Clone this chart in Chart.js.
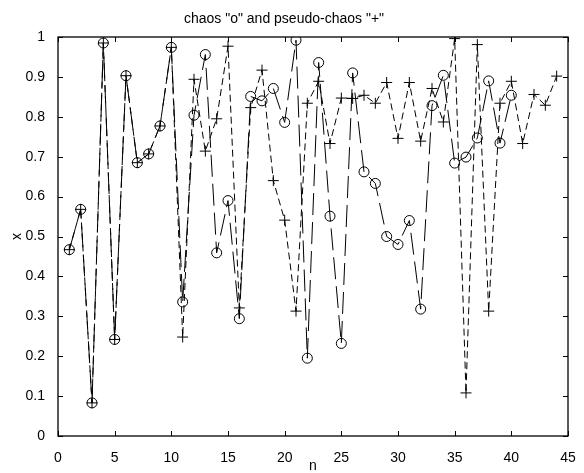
<!DOCTYPE html>
<html>
<head>
<meta charset="utf-8">
<script src="https://cdn.jsdelivr.net/npm/chart.js@4.4.1/dist/chart.umd.min.js"></script>
<style>
  html, body { margin: 0; padding: 0; background: #fff; }
  canvas { display: block; }
</style>
</head>
<body>
<canvas id="chart" width="584" height="473"></canvas>
<script>
// chaos "o" (n = 1..40)
const chaosX = [0.467, 0.568, 0.083, 0.985, 0.242, 0.903, 0.685, 0.707, 0.777, 0.974,
                0.336, 0.804, 0.956, 0.459, 0.590, 0.294, 0.851, 0.840, 0.871, 0.786,
                0.992, 0.195, 0.936, 0.551, 0.232, 0.910, 0.662, 0.633, 0.500, 0.480,
                0.540, 0.318, 0.828, 0.904, 0.684, 0.699, 0.747, 0.890, 0.734, 0.854];
// pseudo-chaos "+" (n = 1..44)
const pseudoX = [0.467, 0.568, 0.083, 0.985, 0.242, 0.903, 0.685, 0.707, 0.777, 0.974,
                 0.248, 0.894, 0.714, 0.795, 0.977, 0.321, 0.823, 0.917, 0.640, 0.541,
                 0.313, 0.834, 0.889, 0.733, 0.847, 0.846, 0.854, 0.834, 0.886, 0.746,
                 0.886, 0.739, 0.871, 0.787, 0.996, 0.108, 0.981, 0.313, 0.834, 0.889,
                 0.733, 0.856, 0.829, 0.902];
const nTicks = [0, 5, 10, 15, 20, 25, 30, 35, 40, 45];
const xTicks = [0, 0.1, 0.2, 0.3, 0.4, 0.5, 0.6, 0.7, 0.8, 0.9, 1];

const toPoints = arr => arr.map((v, i) => ({ x: i + 1, y: v }));

// matlab-style box with inward ticks on all four sides
const boxPlugin = {
  id: 'box',
  afterDatasetsDraw(chart) {
    const { ctx, chartArea: a, scales: { x, y } } = chart;
    const len = 5;
    ctx.save();
    ctx.strokeStyle = '#000';
    ctx.lineWidth = 1;
    ctx.beginPath();
    nTicks.forEach(v => {
      const px = Math.round(x.getPixelForValue(v)) + 0.5;
      ctx.moveTo(px, a.bottom); ctx.lineTo(px, a.bottom - len);
      ctx.moveTo(px, a.top); ctx.lineTo(px, a.top + len);
    });
    xTicks.forEach(v => {
      const py = Math.round(y.getPixelForValue(v)) + 0.5;
      ctx.moveTo(a.left, py); ctx.lineTo(a.left + len, py);
      ctx.moveTo(a.right, py); ctx.lineTo(a.right - len, py);
    });
    ctx.stroke();
    ctx.lineWidth = 1.3;
    ctx.strokeRect(a.left, a.top, a.right - a.left, a.bottom - a.top);
    ctx.restore();
  }
};

const font = { family: '"Liberation Sans", Arial, sans-serif', size: 14 };

new Chart(document.getElementById('chart'), {
  type: 'line',
  data: {
    datasets: [
      {
        label: 'chaos',
        data: toPoints(chaosX),
        borderColor: '#000',
        borderWidth: 1,
        borderDash: [22, 7],
        pointStyle: 'circle',
        pointRadius: 5,
        pointBorderWidth: 1,
        pointBorderColor: '#000',
        pointBackgroundColor: 'rgba(0,0,0,0)',
        fill: false,
        tension: 0
      },
      {
        label: 'pseudo-chaos',
        data: toPoints(pseudoX),
        borderColor: '#000',
        borderWidth: 1,
        borderDash: [7, 4],
        pointStyle: 'cross',
        pointRadius: 5.5,
        pointBorderWidth: 1,
        pointBorderColor: '#000',
        fill: false,
        tension: 0
      }
    ]
  },
  options: {
    responsive: false,
    animation: false,
    devicePixelRatio: 1,
    layout: { padding: { left: 0, right: 16, top: 0, bottom: 0 } },
    plugins: {
      legend: { display: false },
      tooltip: { enabled: false },
      title: {
        display: true,
        text: 'chaos "o" and pseudo-chaos "+"',
        color: '#000',
        font: { ...font, weight: 'normal' },
        padding: { top: 11, bottom: 9.2 }
      }
    },
    scales: {
      x: {
        type: 'linear',
        min: 0,
        max: 45,
        afterFit: s => { s.height = 37; },
        afterBuildTicks: s => { s.ticks = nTicks.map(v => ({ value: v })); },
        grid: { display: false },
        border: { display: false },
        ticks: { color: '#000', font, padding: 5.5, maxRotation: 0 },
        title: { display: true, text: 'n', color: '#000', font: { ...font, lineHeight: 1 }, padding: { top: 0, bottom: 0 } }
      },
      y: {
        type: 'linear',
        min: 0,
        max: 1,
        afterFit: s => { s.width = 58; },
        afterBuildTicks: s => { s.ticks = xTicks.map(v => ({ value: v })); },
        grid: { display: false },
        border: { display: false },
        ticks: { color: '#000', font, padding: 5, callback: v => String(Math.round(v * 10) / 10) },
        title: { display: true, text: 'x', color: '#000', font: { ...font, lineHeight: 1 }, padding: { top: 10, bottom: 0 } }
      }
    }
  },
  plugins: [boxPlugin]
});
</script>
</body>
</html>
